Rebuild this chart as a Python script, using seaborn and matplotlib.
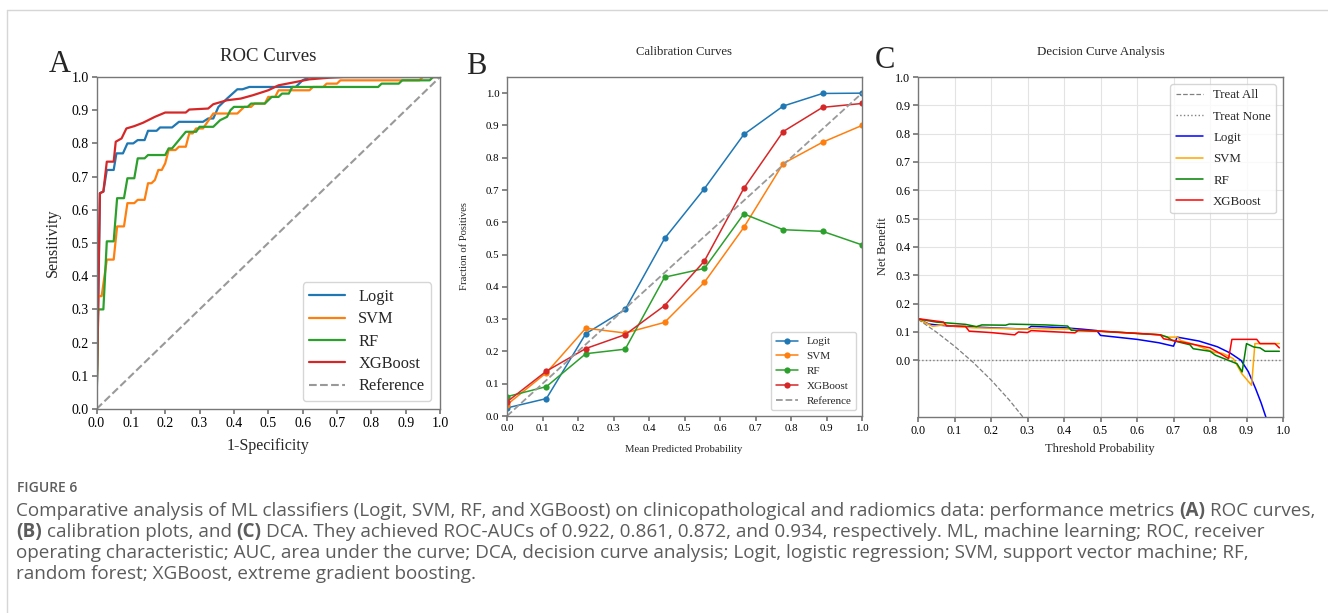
import matplotlib
matplotlib.use("Agg")
import matplotlib.pyplot as plt
from matplotlib.lines import Line2D
import seaborn as sns
import numpy as np

# ---- data ----
models = ["Logit", "SVM", "RF", "XGBoost"]
roc_colors = ["#1f77b4", "#ff7f0e", "#2ca02c", "#d62728"]
dca_colors = ["blue", "orange", "green", "red"]

# ROC curves (1-specificity, sensitivity)
roc_logit_fpr = [0, 0.005, 0.01, 0.02, 0.03, 0.05, 0.058, 0.077, 0.09, 0.107, 0.12, 0.14, 0.15, 0.175,
                 0.185, 0.22, 0.24, 0.31, 0.325, 0.34, 0.355, 0.38, 0.41, 0.425, 0.445, 0.58, 0.60, 0.62, 1.0]
roc_logit_tpr = [0, 0.30, 0.65, 0.655, 0.72, 0.72, 0.77, 0.77, 0.80, 0.80, 0.81, 0.81, 0.838, 0.838,
                 0.848, 0.848, 0.865, 0.865, 0.875, 0.875, 0.91, 0.935, 0.963, 0.963, 0.97, 0.97, 0.99, 1.0, 1.0]
roc_svm_fpr = [0, 0.005, 0.015, 0.03, 0.05, 0.06, 0.08, 0.09, 0.11, 0.12, 0.14, 0.15, 0.16, 0.17, 0.18,
               0.19, 0.2, 0.21, 0.23, 0.24, 0.26, 0.27, 0.28, 0.29, 0.31, 0.32, 0.34, 0.41, 0.43, 0.45,
               0.46, 0.49, 0.5, 0.52, 0.53, 0.62, 0.63, 0.66, 0.67, 0.7, 0.71, 0.94, 0.95, 1.0]
roc_svm_tpr = [0, 0.34, 0.34, 0.45, 0.45, 0.55, 0.55, 0.62, 0.62, 0.63, 0.63, 0.68, 0.68, 0.69, 0.72,
               0.72, 0.74, 0.78, 0.78, 0.79, 0.79, 0.83, 0.83, 0.845, 0.845, 0.86, 0.89, 0.89, 0.91, 0.91,
               0.92, 0.92, 0.94, 0.94, 0.96, 0.96, 0.97, 0.97, 0.98, 0.98, 0.99, 0.99, 1.0, 1.0]
roc_rf_fpr = [0, 0.005, 0.02, 0.03, 0.05, 0.06, 0.08, 0.09, 0.11, 0.12, 0.14, 0.15, 0.2, 0.21, 0.22,
              0.24, 0.26, 0.29, 0.3, 0.34, 0.36, 0.38, 0.39, 0.4, 0.44, 0.45, 0.49, 0.51, 0.53, 0.54,
              0.56, 0.57, 0.82, 0.83, 0.88, 0.89, 0.97, 0.98, 1.0]
roc_rf_tpr = [0, 0.30, 0.30, 0.505, 0.505, 0.635, 0.635, 0.695, 0.695, 0.755, 0.755, 0.765, 0.765, 0.785,
              0.785, 0.81, 0.835, 0.835, 0.85, 0.85, 0.87, 0.88, 0.9, 0.91, 0.91, 0.92, 0.92, 0.94, 0.94,
              0.95, 0.95, 0.97, 0.97, 0.98, 0.98, 0.99, 0.99, 1.0, 1.0]
roc_xgb_fpr = [0, 0.005, 0.01, 0.02, 0.03, 0.05, 0.056, 0.073, 0.087, 0.11, 0.135, 0.17, 0.2, 0.26, 0.27,
               0.325, 0.34, 0.38, 0.42, 0.455, 0.5, 0.53, 0.58, 0.62, 0.68, 0.72, 1.0]
roc_xgb_tpr = [0, 0.35, 0.65, 0.655, 0.745, 0.745, 0.805, 0.815, 0.845, 0.852, 0.862, 0.88, 0.893, 0.893,
               0.902, 0.905, 0.918, 0.93, 0.935, 0.945, 0.96, 0.975, 0.985, 0.993, 0.998, 1.0, 1.0]
ref_x = [0, 1]
ref_y = [0, 1]

# calibration curves
cal_bins = [0.0, 0.111, 0.222, 0.333, 0.444, 0.556, 0.667, 0.778, 0.889, 1.0]
cal_logit = [0.025, 0.054, 0.255, 0.33, 0.55, 0.704, 0.872, 0.96, 0.999, 1.0]
cal_svm = [0.035, 0.134, 0.272, 0.257, 0.29, 0.414, 0.584, 0.782, 0.848, 0.90]
cal_rf = [0.06, 0.091, 0.193, 0.207, 0.43, 0.457, 0.626, 0.577, 0.572, 0.53]
cal_xgb = [0.044, 0.139, 0.209, 0.252, 0.342, 0.48, 0.705, 0.881, 0.956, 0.968]

# decision curves
dca_all_x = [0, 0.05, 0.1, 0.15, 0.2, 0.25, 0.3]
dca_all_y = [0.145, 0.10, 0.05, -0.006, -0.069, -0.14, -0.22]
dca_none_x = [0, 1]
dca_none_y = [0, 0]
dca_logit_x = [0, 0.03, 0.05, 0.1, 0.15, 0.2, 0.3, 0.31, 0.4, 0.45, 0.49, 0.5, 0.6, 0.66, 0.7, 0.71,
               0.77, 0.82, 0.855, 0.885, 0.905, 0.925, 0.94, 0.953, 0.965]
dca_logit_y = [0.146, 0.128, 0.125, 0.12, 0.118, 0.115, 0.11, 0.12, 0.115, 0.11, 0.105, 0.088, 0.074,
               0.062, 0.05, 0.082, 0.068, 0.048, 0.026, 0.0, -0.04, -0.1, -0.15, -0.2, -0.3]
dca_svm_x = [0, 0.04, 0.07, 0.1, 0.15, 0.3, 0.31, 0.42, 0.44, 0.5, 0.664, 0.683, 0.71, 0.72, 0.763,
             0.81, 0.836, 0.864, 0.887, 0.914, 0.923, 0.99]
dca_svm_y = [0.146, 0.12, 0.125, 0.12, 0.115, 0.11, 0.113, 0.11, 0.104, 0.102, 0.09, 0.082, 0.082, 0.07,
             0.053, 0.029, 0.024, 0.006, -0.047, -0.088, 0.059, 0.059]
dca_rf_x = [0, 0.05, 0.1, 0.13, 0.16, 0.175, 0.24, 0.25, 0.35, 0.41, 0.42, 0.5, 0.664, 0.683, 0.697,
            0.745, 0.754, 0.8, 0.815, 0.874, 0.888, 0.9, 0.92, 0.937, 0.951, 0.99]
dca_rf_y = [0.146, 0.135, 0.13, 0.127, 0.119, 0.125, 0.124, 0.128, 0.125, 0.121, 0.106, 0.103, 0.09,
            0.082, 0.07, 0.055, 0.041, 0.032, 0.018, -0.012, -0.041, 0.059, 0.047, 0.044, 0.032, 0.032]
dca_xgb_x = [0, 0.07, 0.078, 0.13, 0.14, 0.2, 0.265, 0.275, 0.3, 0.31, 0.43, 0.44, 0.5, 0.664, 0.673,
             0.7, 0.745, 0.8, 0.828, 0.851, 0.86, 0.928, 0.937, 0.978, 0.99]
dca_xgb_y = [0.147, 0.135, 0.122, 0.12, 0.103, 0.098, 0.09, 0.1, 0.098, 0.105, 0.097, 0.107, 0.103,
             0.09, 0.076, 0.07, 0.059, 0.044, 0.024, 0.006, 0.074, 0.074, 0.059, 0.059, 0.044]

ticks01 = [round(v, 1) for v in np.arange(0, 1.01, 0.1)]

caption_head = "FIGURE 6"
caption_lines = [
    [("Comparative analysis of ML classifiers (Logit, SVM, RF, and XGBoost) on clinicopathological "
      "and radiomics data: performance metrics", "normal"), ("(A)", "bold"), ("ROC curves,", "normal")],
    [("(B)", "bold"), ("calibration plots, and", "normal"), ("(C)", "bold"),
     ("DCA. They achieved ROC-AUCs of 0.922, 0.861, 0.872, and 0.934, respectively. ML, machine "
      "learning; ROC, receiver", "normal")],
    [("operating characteristic; AUC, area under the curve; DCA, decision curve analysis; Logit, "
      "logistic regression; SVM, support vector machine; RF,", "normal")],
    [("random forest; XGBoost, extreme gradient boosting.", "normal")],
]

# ---- style ----
sns.set_theme(style="ticks")
plt.rcParams["font.family"] = ["Liberation Serif", "DejaVu Serif"]
plt.rcParams["axes.edgecolor"] = "#777777"
plt.rcParams["xtick.color"] = "#777777"
plt.rcParams["ytick.color"] = "#777777"
plt.rcParams["xtick.labelcolor"] = "black"
plt.rcParams["ytick.labelcolor"] = "black"
plt.rcParams["xtick.major.size"] = 3.5
plt.rcParams["ytick.major.size"] = 3.5

W, H = 1328, 613
fig = plt.figure(figsize=(W / 100, H / 100), dpi=100)
fig.patch.set_facecolor("white")


def px_axes(left, top, right, bottom):
    return fig.add_axes([left / W, 1 - bottom / H, (right - left) / W, (bottom - top) / H])


def place_labels(ax, box, xl, yl):
    # box = (left, top, right, bottom) in pixels; xl/yl = centre of label in pixels
    left, top, right, bottom = box
    ax.xaxis.label.set_va("center")
    ax.yaxis.label.set_va("center")
    ax.xaxis.set_label_coords((xl[0] - left) / (right - left), (bottom - xl[1]) / (bottom - top))
    ax.yaxis.set_label_coords((yl[0] - left) / (right - left), (bottom - yl[1]) / (bottom - top))


# ---- A: ROC ----
box_a = (96.5, 77, 440, 409)
ax_a = px_axes(*box_a)
roc_data = [(roc_logit_fpr, roc_logit_tpr), (roc_svm_fpr, roc_svm_tpr),
            (roc_rf_fpr, roc_rf_tpr), (roc_xgb_fpr, roc_xgb_tpr)]
for name, col, (fx, ty) in zip(models, roc_colors, roc_data):
    sns.lineplot(x=fx, y=ty, ax=ax_a, color=col, lw=1.6, label=name, estimator=None, sort=False)
sns.lineplot(x=ref_x, y=ref_y, ax=ax_a, color="#999999", lw=1.5, ls="--", label="Reference",
             estimator=None, sort=False)
ax_a.set_xlim(0, 1)
ax_a.set_ylim(0, 1)
ax_a.set_xticks(ticks01)
ax_a.set_yticks(ticks01)
ax_a.tick_params(labelsize=10, pad=2)
ax_a.set_xlabel("1-Specificity", fontsize=11.5)
ax_a.set_ylabel("Sensitivity", fontsize=11.5)
place_labels(ax_a, box_a, (268, 446), (53, 243))
ax_a.set_title("ROC Curves", fontsize=13.5, y=(409 - 56) / 332, va="center", pad=0)
ax_a.legend(loc="lower right", bbox_to_anchor=((431 - 96.5) / 343.5, (409 - 401) / 332),
            borderaxespad=0, fontsize=11.8, handlelength=2.2, labelspacing=0.39)

# ---- B: calibration ----
box_b = (507, 77, 862, 416)
ax_b = px_axes(*box_b)
for name, col, vals in zip(models, roc_colors, [cal_logit, cal_svm, cal_rf, cal_xgb]):
    sns.lineplot(x=cal_bins, y=vals, ax=ax_b, color=col, lw=1.1, marker="o", markersize=4.5,
                 markeredgewidth=0, label=name, estimator=None, sort=False)
sns.lineplot(x=ref_x, y=ref_y, ax=ax_b, color="#999999", lw=1.3, ls="--", label="Reference",
             estimator=None, sort=False)
ax_b.set_xlim(0, 1)
ax_b.set_ylim(0, 1.05)
ax_b.set_xticks(ticks01)
ax_b.set_yticks(ticks01)
ax_b.tick_params(labelsize=7.8, pad=2)
ax_b.set_xlabel("Mean Predicted Probability", fontsize=7.7)
ax_b.set_ylabel("Fraction of Positives", fontsize=7.7)
place_labels(ax_b, box_b, (684, 450), (465, 246))
ax_b.set_title("Calibration Curves", fontsize=9.1, y=(416 - 52) / 339, va="center", pad=0)
ax_b.legend(loc="lower right", bbox_to_anchor=((856 - 507) / 355, (416 - 410) / 339),
            borderaxespad=0, fontsize=8, handlelength=2.0, labelspacing=0.45)

# ---- C: decision curves ----
box_c = (918, 77, 1283, 417)
ax_c = px_axes(*box_c)
ax_c.grid(True, color="#e3e3e3", lw=0.8)
ax_c.set_axisbelow(True)
sns.lineplot(x=dca_all_x, y=dca_all_y, ax=ax_c, color="gray", lw=0.9, ls="--", label="Treat All",
             estimator=None, sort=False)
sns.lineplot(x=dca_none_x, y=dca_none_y, ax=ax_c, color="gray", lw=1.0, ls=":", label="Treat None",
             estimator=None, sort=False)
dca_data = [(dca_logit_x, dca_logit_y), (dca_svm_x, dca_svm_y), (dca_rf_x, dca_rf_y), (dca_xgb_x, dca_xgb_y)]
for name, col, (dx, dy) in zip(models, dca_colors, dca_data):
    sns.lineplot(x=dx, y=dy, ax=ax_c, color=col, lw=1.1, label=name, estimator=None, sort=False)
ax_c.set_xlim(0, 1)
ax_c.set_ylim(-0.2, 1.0)
ax_c.set_xticks(ticks01)
ax_c.set_yticks(ticks01)
ax_c.tick_params(labelsize=8.7, pad=2)
ax_c.set_xlabel("Threshold Probability", fontsize=9)
ax_c.set_ylabel("Net Benefit", fontsize=9)
place_labels(ax_c, box_c, (1100, 449), (883, 246))
ax_c.set_title("Decision Curve Analysis", fontsize=9.3, y=(417 - 52) / 340, va="center", pad=0)
ax_c.legend(loc="upper right", bbox_to_anchor=((1276 - 918) / 365, (417 - 84) / 340),
            borderaxespad=0, fontsize=9.3, handlelength=2.1, labelspacing=0.72)

for ax in (ax_a, ax_b, ax_c):
    for s in ax.spines.values():
        s.set_visible(True)
        s.set_linewidth(1.0)

# panel letters
for letter, (lx, ly) in zip("ABC", [(60, 65), (476, 67), (885, 60)]):
    fig.text(lx / W, 1 - ly / H, letter, fontsize=22, ha="center", va="center")

# frame around the figure block
fig.add_artist(Line2D([7 / W, 1.0], [1 - 10 / H, 1 - 10 / H], color="#d6d6d6", lw=1.0))
fig.add_artist(Line2D([7 / W, 7 / W], [1 - 10 / H, 0], color="#d6d6d6", lw=1.0))

# caption
cap_font = "Open Sans"
cap_size = 13.6
cap_color = "#5c5c5c"
fig.text(17 / W, 1 - 488 / H, caption_head, fontsize=10, color="#5e5e5e", family=cap_font,
         fontweight="semibold", ha="left", va="center")
renderer = fig.canvas.get_renderer()
t1 = fig.text(0, 0, "n n", fontsize=cap_size, family=cap_font)
t2 = fig.text(0, 0, "nn", fontsize=cap_size, family=cap_font)
space_w = t1.get_window_extent(renderer).width - t2.get_window_extent(renderer).width
t1.remove()
t2.remove()
for i, pieces in enumerate(caption_lines):
    x = 16
    y = 511 + i * 21
    for txt, weight in pieces:
        t = fig.text(x / W, 1 - y / H, txt, fontsize=cap_size, fontweight=weight, color=cap_color,
                     family=cap_font, ha="left", va="center")
        x += t.get_window_extent(renderer).width + space_w

fig.savefig("out.png", dpi=100, facecolor="white")
